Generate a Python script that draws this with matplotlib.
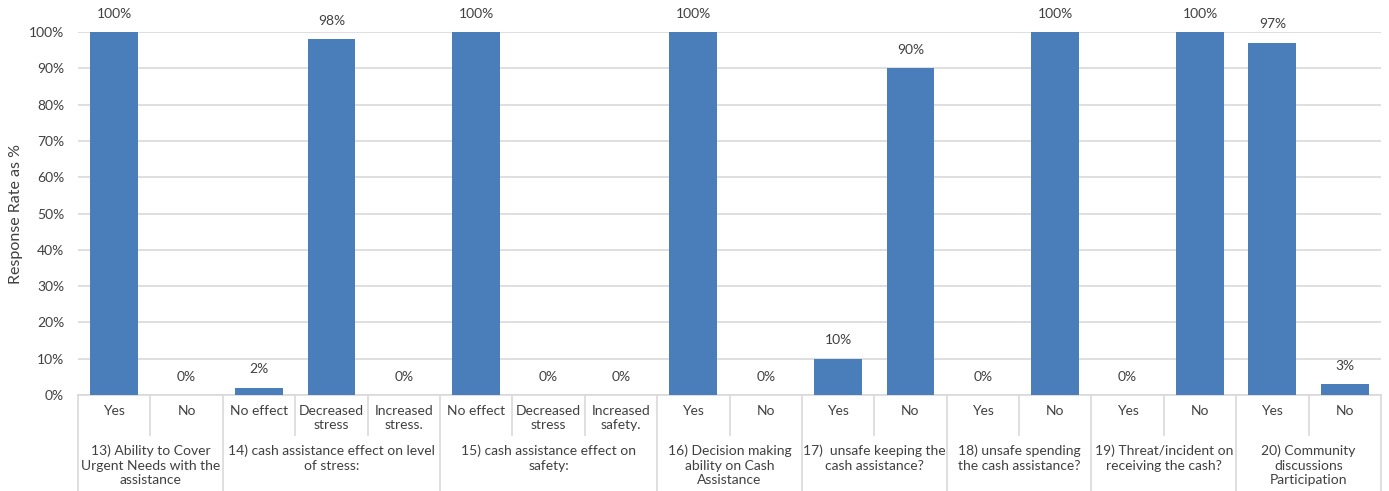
import matplotlib
matplotlib.use("Agg")
import matplotlib.pyplot as plt
import matplotlib.transforms as mtransforms
from matplotlib.ticker import PercentFormatter

# ---------------------------------------------------------------------------
# Data
# ---------------------------------------------------------------------------

ANSWERS = [
    "Yes", "No",
    "No effect", "Decreased\nstress", "Increased\nstress.",
    "No effect", "Decreased\nstress", "Increased\nsafety.",
    "Yes", "No",
    "Yes", "No",
    "Yes", "No",
    "Yes", "No",
    "Yes", "No",
]
RATES = [100, 0, 2, 98, 0, 100, 0, 0, 100, 0, 10, 90, 0, 100, 0, 100, 97, 3]

QUESTIONS = [
    "13) Ability to Cover\nUrgent Needs with the\nassistance",
    "14) cash assistance effect on level\nof stress:",
    "15) cash assistance effect on\nsafety:",
    "16) Decision making\nability on Cash\nAssistance",
    "17)  unsafe keeping the\ncash assistance?",
    "18) unsafe spending\nthe cash assistance?",
    "19) Threat/incident on\nreceiving the cash?",
    "20) Community\ndiscussions\nParticipation",
]
GROUP_SIZES = [2, 3, 3, 2, 2, 2, 2, 2]

BAR_COLOR = "#4a7ebb"
GRID_COLOR = "#d9d9d9"
TEXT_COLOR = "#404040"

plt.rcParams["font.family"] = ["Lato", "DejaVu Sans"]
plt.rcParams["font.size"] = 10

fig = plt.figure(figsize=(13.89, 4.91), dpi=100)
ax = fig.add_axes([0.0562, 0.1955, 0.938, 0.7393])

x = list(range(len(RATES)))
bars = ax.bar(x, RATES, width=0.66, color=BAR_COLOR, zorder=3)
for rect, val in zip(bars, RATES):
    ax.annotate(f"{val}%", (rect.get_x() + rect.get_width() / 2, val),
                xytext=(0, 9), textcoords="offset points",
                ha="center", va="bottom", color=TEXT_COLOR, fontsize=10)

ax.set_xlim(-0.5, len(RATES) - 0.5)
ax.set_ylim(0, 100)
ax.set_yticks(range(0, 101, 10))
ax.yaxis.set_major_formatter(PercentFormatter(decimals=0))
ax.tick_params(axis="y", length=0, pad=10, colors=TEXT_COLOR, labelsize=10)
ax.set_xticks([])
ax.grid(axis="y", color=GRID_COLOR, linewidth=1.2, zorder=0)
for side in ("top", "right", "left"):
    ax.spines[side].set_visible(False)
ax.spines["bottom"].set_color(GRID_COLOR)
ax.spines["bottom"].set_linewidth(1.2)
ax.set_ylabel("Response Rate as %", fontsize=11.5, color=TEXT_COLOR, labelpad=4)

# Two-level category axis: answers on the first row, questions below
trans = mtransforms.blended_transform_factory(ax.transData, ax.transAxes)
sep_kw = dict(color=GRID_COLOR, linewidth=1.2, transform=trans, clip_on=False)

for i, label in enumerate(ANSWERS):
    ax.text(i, -0.027, label, transform=trans, ha="center", va="top",
            color=TEXT_COLOR, linespacing=1.25)

start = 0
boundaries = [-0.5]
for q, size in zip(QUESTIONS, GROUP_SIZES):
    mid = start + (size - 1) / 2
    ax.text(mid, -0.137, q, transform=trans, ha="center", va="top",
            color=TEXT_COLOR, linespacing=1.25)
    start += size
    boundaries.append(start - 0.5)

for b in range(len(RATES) + 1):
    pos = b - 0.5
    if pos in boundaries:
        ax.plot([pos, pos], [0, -0.264], **sep_kw)
    else:
        ax.plot([pos, pos], [0, -0.11], **sep_kw)

fig.savefig("out.png", dpi=100)
